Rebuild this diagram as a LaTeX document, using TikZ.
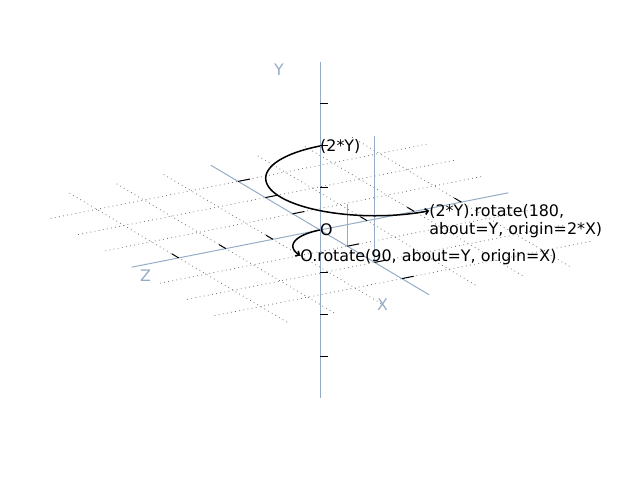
\documentclass[tikz,border=0pt]{standalone}
\usepackage{fontspec}
\setmainfont{DejaVu Sans}
\usetikzlibrary{arrows.meta}
\definecolor{axiscol}{RGB}{150,172,198}
\definecolor{gridcol}{RGB}{115,115,115}
\begin{document}
\begin{tikzpicture}[
  x={(27.3bp,-16.2bp)}, y={(0bp,42bp)}, z={(-47.1bp,-9.3bp)},
  gridline/.style={draw=gridcol, line width=0.8bp, dash pattern=on 0.8bp off 3.4bp},
  axisline/.style={draw=axiscol, line width=1bp},
  tickmark/.style={draw=black, line width=1bp},
  curveline/.style={draw=black, line width=1.5bp, -{Straight Barb[length=3bp,width=6bp]}},
  txt/.style={anchor=base west, inner sep=0pt, font=\fontsize{15.9bp}{18bp}\selectfont},
  axlbl/.style={anchor=center, inner sep=0pt, text=axiscol, font=\fontsize{15.9bp}{18bp}\selectfont}
]
\useasboundingbox (-320bp,-250bp) rectangle (320bp,230bp);
% grid in the XZ plane
\foreach \i in {-3,-2,-1,1,2,3} {
  \draw[gridline] (\i,0,-4) -- (\i,0,4);
  \draw[gridline] (-4,0,\i) -- (4,0,\i);
}
% axes
\draw[axisline] (-4,0,0) -- (4,0,0);
\draw[axisline] (0,-4,0) -- (0,4,0);
\draw[axisline] (0,0,-4) -- (0,0,4);
% rotation axes
\draw[axisline] (1,0,0) -- (1,1,0);
\draw[axisline] (2,0,0) -- (2,3,0);
% ticks
\foreach \i in {-3,-2,-1,1,2,3} {
  \draw[tickmark] (0,\i,0) -- ++(8bp,0);
  \draw[tickmark] (\i,0,0) -- ++(0,0,-0.25);
  \draw[tickmark] (0,0,\i) -- ++(-0.25,0,0);
}
% curves
\draw[curveline] plot[domain=0:180, samples=90, smooth] ({2-2*cos(\x)},2,{2*sin(\x)});
\draw[curveline] plot[domain=0:90, samples=45, smooth] ({1-cos(\x)},0,{sin(\x)});
% labels
\node (lblY) [axlbl] at (-41bp,160bp) {Y};
\node (lblX) [axlbl] at (62.5bp,-75bp) {X};
\node (lblZ) [axlbl] at (-174.5bp,-46bp) {Z};
\node (lblO) [txt, yshift=-5bp] at (0,0,0) {O};
\node (lbl2Y) [txt, yshift=-6bp] at (0,2,0) {(2*Y)};
\node (lblRa) [txt, yshift=-6bp] at (4,2,0) {(2*Y).rotate(180,};
\node (lblRb) [txt, yshift=-24bp] at (4,2,0) {about=Y, origin=2*X)};
\node (lblOr) [txt, yshift=-6bp] at (1,0,1) {O.rotate(90, about=Y, origin=X)};
\end{tikzpicture}
\end{document}
